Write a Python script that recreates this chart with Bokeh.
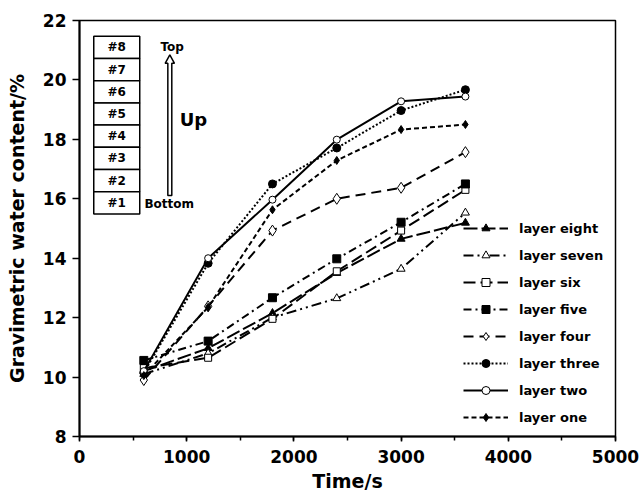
from bokeh.plotting import figure
from bokeh.models import (Legend, Label, BoxAnnotation, SingleIntervalTicker, Range1d)
from bokeh.embed import file_html
from bokeh.resources import INLINE

# ---------------- data ----------------
time_s = [600, 1200, 1800, 2400, 3000, 3600]
layer_eight = [10.20, 10.97, 12.15, 13.50, 14.65, 15.19]
layer_seven = [10.10, 10.80, 12.00, 12.65, 13.64, 15.53]
layer_six = [10.30, 10.65, 11.96, 13.56, 14.93, 16.30]
layer_five = [10.56, 11.21, 12.67, 13.98, 15.21, 16.50]
layer_four = [9.90, 12.38, 14.93, 16.00, 16.37, 17.57]
layer_three = [10.15, 13.83, 16.50, 17.71, 18.97, 19.67]
layer_two = [10.20, 14.00, 15.97, 17.99, 19.28, 19.44]
layer_one = [10.05, 12.35, 15.63, 17.29, 18.33, 18.50]

series_names = ["layer eight", "layer seven", "layer six", "layer five",
                "layer four", "layer three", "layer two", "layer one"]
series_values = [layer_eight, layer_seven, layer_six, layer_five,
                 layer_four, layer_three, layer_two, layer_one]
cell_labels = ["#8", "#7", "#6", "#5", "#4", "#3", "#2", "#1"]

# styles: (dash, marker, filled, size)
styles = [
    ("14 4", "triangle", True, 8),
    ("10 4 2 4 2 4", "triangle", False, 8),
    ("12 5", "square", False, 7),
    ("8 4 2 4", "square", True, 8),
    ("10 6", "diamond", False, 11),
    ("2 2", "circle", True, 8),
    ("solid", "circle", False, 7),
    ("5 3", "diamond", True, 8),
]

FONT = "DejaVu Sans"

p = figure(width=642, height=494, output_backend="svg", toolbar_location=None,
           x_range=Range1d(0, 5000), y_range=Range1d(8, 22),
           min_border_left=79, min_border_right=27, min_border_top=20,
           min_border_bottom=58)
p.background_fill_color = "white"
p.border_fill_color = "white"
p.outline_line_color = "black"
p.outline_line_width = 1.5
p.xgrid.grid_line_color = None
p.ygrid.grid_line_color = None

items = []
for name, vals, (dash, marker, filled, size) in zip(series_names, series_values, styles):
    r1 = p.line(time_s, vals, line_color="black", line_width=2, line_dash=dash)
    r2 = p.scatter(time_s, vals, marker=marker, size=size, line_color="black",
                   line_width=1, fill_color="black" if filled else "white")
    items.append((name, [r1, r2]))

legend = Legend(items=items, location=(384, 9))
legend.label_text_font = FONT
legend.label_text_font_style = "bold"
legend.label_text_font_size = "13px"
legend.label_text_color = "black"
legend.label_standoff = 11
legend.glyph_width = 45
legend.glyph_height = 20
legend.label_height = 20
legend.spacing = 7
legend.padding = 0
legend.margin = 0
legend.border_line_color = None
legend.background_fill_alpha = 0
p.add_layout(legend, "center")

# axes
p.xaxis.ticker = SingleIntervalTicker(interval=1000, num_minor_ticks=2)
p.yaxis.ticker = SingleIntervalTicker(interval=2, num_minor_ticks=0)
for ax in (p.xaxis, p.yaxis):
    ax.axis_line_width = 2
    ax.axis_line_color = "black"
    ax.major_tick_line_width = 1.5
    ax.minor_tick_line_width = 1.5
    ax.major_tick_in = 0
    ax.minor_tick_in = 0
    ax.major_label_text_font = FONT
    ax.major_label_text_font_style = "bold"
    ax.major_label_text_font_size = "17px"
    ax.major_label_text_color = "black"
    ax.axis_label_text_font = FONT
    ax.axis_label_text_font_style = "bold"
    ax.axis_label_text_font_size = "19px"
    ax.axis_label_text_color = "black"
p.xaxis.major_tick_out = 5
p.xaxis.minor_tick_out = 4
p.xaxis.major_label_standoff = 8
p.xaxis.axis_label = "Time/s"
p.xaxis.axis_label_standoff = 4
p.yaxis.major_tick_out = 7
p.yaxis.minor_tick_line_color = None
p.yaxis.major_label_standoff = 6
p.yaxis.axis_label = "Gravimetric water content/%"
p.yaxis.axis_label_standoff = 12

# inset: layer stack diagram
box_left, box_right = 133, 562
box_top, row_h = 21.47, 0.7475
for i, lab in enumerate(cell_labels):
    top = box_top - i * row_h
    p.add_layout(BoxAnnotation(left=box_left, right=box_right, top=top, bottom=top - row_h,
                               fill_color="white", fill_alpha=1, line_color="black",
                               line_alpha=1, line_width=1.5))
    p.add_layout(Label(x=(box_left + box_right) / 2, y=top - row_h / 2, text=lab,
                       text_font=FONT, text_font_style="bold", text_font_size="12px",
                       text_color="black", text_align="center", text_baseline="middle"))

# hollow arrow
ax_x = [824, 861, 861, 886, 842.5, 799, 824, 824]
ax_y = [16.11, 16.11, 20.56, 20.56, 20.84, 20.56, 20.56, 16.11]
p.patch(ax_x, ax_y, fill_color="white", line_color="black", line_width=1.5)

p.add_layout(Label(x=865, y=21.1, text="Top", text_font=FONT, text_font_style="bold",
                   text_font_size="12px", text_color="black",
                   text_align="center", text_baseline="middle"))
p.add_layout(Label(x=606, y=15.84, text="Bottom", text_font=FONT, text_font_style="bold",
                   text_font_size="12px", text_color="black",
                   text_align="left", text_baseline="middle"))
p.add_layout(Label(x=1063, y=18.66, text="Up", text_font=FONT, text_font_style="bold",
                   text_font_size="18px", text_color="black",
                   text_align="center", text_baseline="middle"))

open("out.html", "w").write(file_html(p, INLINE))
